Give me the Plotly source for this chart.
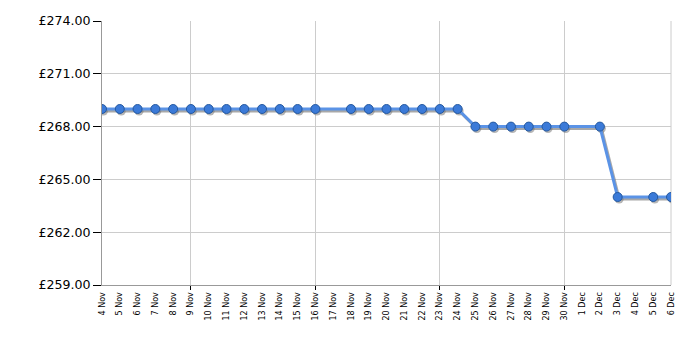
import plotly.graph_objects as go
import pandas as pd

dates = ["2025-11-04","2025-11-05","2025-11-06","2025-11-07","2025-11-08","2025-11-09",
         "2025-11-10","2025-11-11","2025-11-12","2025-11-13","2025-11-14","2025-11-15",
         "2025-11-16","2025-11-18","2025-11-19","2025-11-20","2025-11-21","2025-11-22",
         "2025-11-23","2025-11-24","2025-11-25","2025-11-26","2025-11-27","2025-11-28",
         "2025-11-29","2025-11-30","2025-12-02","2025-12-03","2025-12-05","2025-12-06"]
prices = [269, 269, 269, 269, 269, 269, 269, 269, 269, 269, 269, 269, 269,
          269, 269, 269, 269, 269, 269, 269,
          268, 268, 268, 268, 268, 268, 268,
          264, 264, 264]
label_days = pd.date_range("2025-11-04", "2025-12-06", freq="D")
grid_days = ["2025-11-09", "2025-11-16", "2025-11-23", "2025-11-30"]
y_ticks = [259, 262, 265, 268, 271, 274]
y_text = [f"£{v:.2f}" for v in y_ticks]

x0 = pd.Timestamp("2025-11-04")
x1 = pd.Timestamp("2025-12-06")
plot_w = 700 - 102 - 29
plot_h = 350 - 21 - 65
dx = (x1 - x0) * (1.5 / plot_w)
dy = 15 * 2.0 / plot_h

fig = go.Figure()
# invisible anchors so the base axes are drawn
fig.add_trace(go.Scatter(x=dates, y=prices, mode="markers", opacity=0,
                         xaxis="x", yaxis="y", hoverinfo="skip", showlegend=False))
fig.add_trace(go.Scatter(x=dates, y=prices, mode="markers", opacity=0,
                         xaxis="x2", yaxis="y", hoverinfo="skip", showlegend=False))
# shadow
fig.add_trace(go.Scatter(x=dates, y=prices, mode="lines+markers",
                         line=dict(color="rgba(110,110,110,0.6)", width=3),
                         marker=dict(size=9, color="rgba(110,110,110,0.5)"),
                         xaxis="x3", yaxis="y3", hoverinfo="skip", showlegend=False))
# main series
fig.add_trace(go.Scatter(x=dates, y=prices, mode="lines+markers",
                         line=dict(color="#5b93e6", width=3),
                         marker=dict(size=9, color="#3b7ad8", line=dict(color="#24589f", width=1)),
                         xaxis="x4", yaxis="y4", showlegend=False))

fig.update_layout(
    width=700, height=350,
    margin=dict(l=102, r=29, t=21, b=65),
    plot_bgcolor="white", paper_bgcolor="white",
    font=dict(family="DejaVu Sans", color="black"),
    xaxis=dict(type="date", range=[x0, x1], tickvals=label_days, tickformat="%-d %b",
               tickangle=-90, tickfont=dict(size=8, family="DejaVu Sans"),
               ticklabelstandoff=3,
               showgrid=False, ticks="", showline=True, linecolor="#999999", linewidth=1,
               zeroline=False, mirror=False),
    xaxis2=dict(type="date", range=[x0, x1], overlaying="x", tickvals=grid_days,
                showticklabels=False, showgrid=True, gridcolor="#cccccc", gridwidth=1,
                ticks="outside", ticklen=4, tickcolor="black", showline=False, zeroline=False),
    xaxis3=dict(type="date", range=[x0 - dx, x1 - dx], overlaying="x", visible=False),
    xaxis4=dict(type="date", range=[x0, x1], overlaying="x", visible=False),
    yaxis=dict(range=[259, 274], tickvals=y_ticks, ticktext=y_text,
               tickfont=dict(size=12.6, family="DejaVu Sans"),
               showgrid=True, gridcolor="#cccccc", gridwidth=1,
               ticks="outside", ticklen=8, tickcolor="black",
               showline=True, linecolor="#999999", linewidth=1, zeroline=False),
    yaxis3=dict(range=[259 + dy, 274 + dy], overlaying="y", visible=False),
    yaxis4=dict(range=[259, 274], overlaying="y", visible=False),
)
fig.add_shape(type="line", xref="paper", yref="paper", x0=1, x1=1, y0=0, y1=1,
              line=dict(color="#cccccc", width=1), layer="below")
fig.write_html("out.html")
